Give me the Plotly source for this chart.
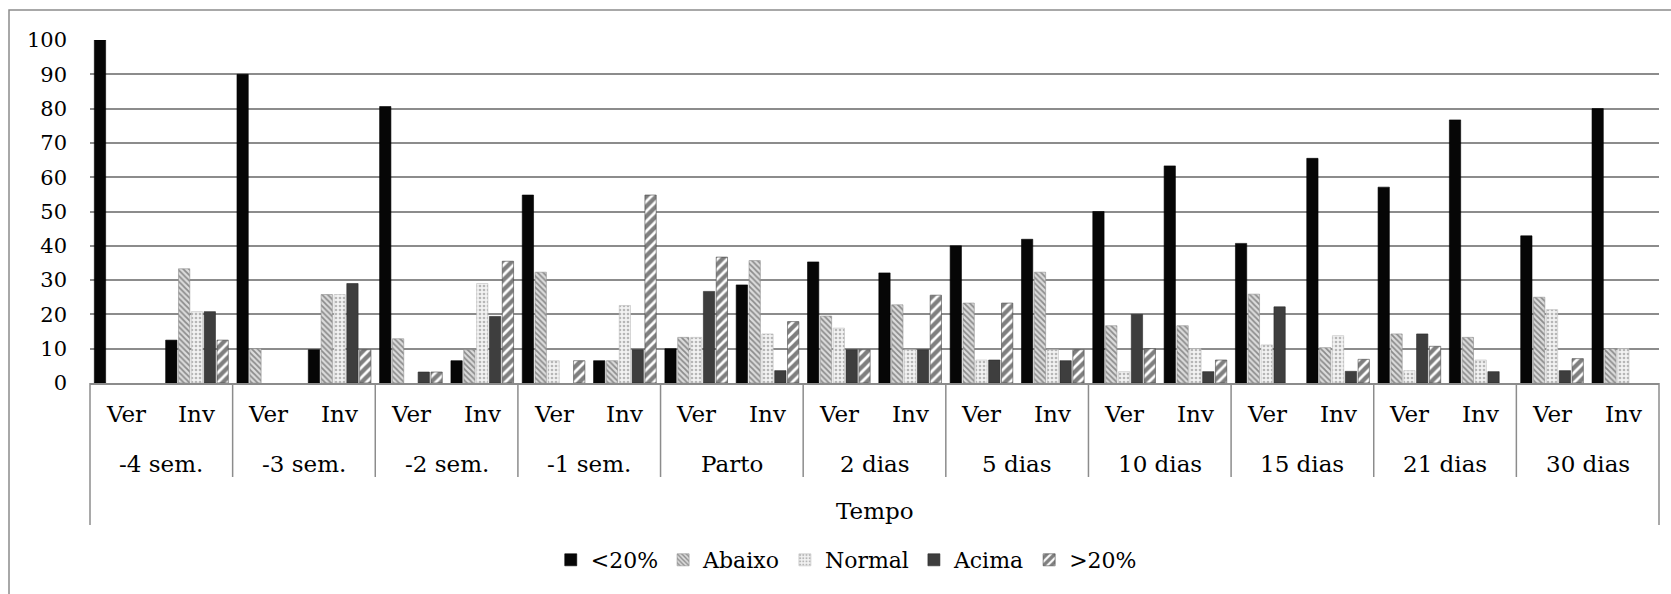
import plotly.graph_objects as go

# Time points and season sub-groups
tempos = ["-4 sem.", "-3 sem.", "-2 sem.", "-1 sem.", "Parto", "2 dias",
          "5 dias", "10 dias", "15 dias", "21 dias", "30 dias"]
estacoes = ["Ver", "Inv"]

# Percent of animals per class, ordered (Ver, Inv) for each time point
menor20 = [100.0, 12.5, 90.0, 9.7, 80.6, 6.5, 54.8, 6.5, 10.0, 28.6, 35.3, 32.1,
           40.0, 41.9, 50.0, 63.3, 40.7, 65.5, 57.1, 76.7, 42.9, 80.0]
abaixo = [0.0, 33.3, 10.0, 25.8, 12.9, 9.7, 32.3, 6.5, 13.3, 35.7, 19.5, 22.8,
          23.3, 32.3, 16.7, 16.7, 25.9, 10.3, 14.3, 13.3, 25.0, 10.0]
normal = [0.0, 20.8, 0.0, 25.8, 0.0, 29.0, 6.5, 22.6, 13.3, 14.3, 16.0, 9.7,
          6.7, 9.7, 3.3, 10.0, 11.1, 13.8, 3.6, 6.7, 21.4, 10.0]
acima = [0.0, 20.8, 0.0, 29.0, 3.2, 19.4, 0.0, 9.7, 26.7, 3.6, 9.7, 9.7,
         6.7, 6.5, 20.0, 3.3, 22.2, 3.4, 14.3, 3.3, 3.6, 0.0]
maior20 = [0.0, 12.5, 0.0, 9.7, 3.2, 35.5, 6.5, 54.8, 36.7, 17.9, 9.7, 25.6,
           23.3, 9.7, 10.0, 6.7, 0.0, 6.9, 10.7, 0.0, 7.1, 0.0]

series_names = ["<20%", "Abaixo", "Normal", "Acima", ">20%"]
series_values = [menor20, abaixo, normal, acima, maior20]

x_outer = [t for t in tempos for _ in estacoes]
x_inner = [e for _ in tempos for e in estacoes]

FONT = "DejaVu Serif"
GRID = "#8c8c8c"

styles = [
    dict(color="#060606", line=dict(color="#000000", width=0.6)),
    dict(color="#d0d0d0",
         pattern=dict(shape="\\", fgcolor="#3a3a3a", bgcolor="#dcdcdc",
                      size=4, solidity=0.45),
         line=dict(color="#8f8f8f", width=0.6)),
    dict(color="#f0f0f0",
         pattern=dict(shape=".", fgcolor="#7a7a7a", bgcolor="#f2f2f2",
                      size=4, solidity=0.35),
         line=dict(color="#bdbdbd", width=0.6)),
    dict(color="#3e3e3e", line=dict(color="#2a2a2a", width=0.6)),
    dict(color="#ffffff",
         pattern=dict(shape="/", fgcolor="#000000", bgcolor="#ffffff",
                      size=7, solidity=0.62),
         line=dict(color="#444444", width=0.6)),
]

fig = go.Figure()
for name, vals, st in zip(series_names, series_values, styles):
    # empty classes get no bar at all
    yv = [v if v > 0 else None for v in vals]
    fig.add_trace(go.Bar(x=[x_outer, x_inner], y=yv, name=name, marker=st))

n = len(tempos)
m = n * len(estacoes)

# Category box: dividers between time points, longer ones at both ends
shapes = []
for k in range(n + 1):
    outer = k in (0, n)
    shapes.append(dict(type="line", xref="x domain", yref="y domain",
                       x0=k / n, x1=k / n, y0=0, y1=-0.414 if outer else -0.274,
                       line=dict(color=GRID, width=1.5)))
# Chart frame
shapes.append(dict(type="rect", xref="paper", yref="paper",
                   x0=(9 - 90) / 1569, x1=(1673 - 90) / 1569,
                   y0=(383 - 640) / 343, y1=(383 - 10) / 343,
                   line=dict(color=GRID, width=1.5), fillcolor="rgba(0,0,0,0)",
                   layer="below"))

# Two-level category labels plus the axis name
annotations = []
for i, lab in enumerate(x_inner):
    annotations.append(dict(text=lab, xref="x domain", yref="y domain",
                            x=(i + 0.5) / m, y=-(414 - 383) / 343,
                            showarrow=False, xanchor="center", yanchor="middle",
                            font=dict(family=FONT, size=23)))
for k, lab in enumerate(tempos):
    annotations.append(dict(text=lab, xref="x domain", yref="y domain",
                            x=(k + 0.5) / n, y=-(464 - 383) / 343,
                            showarrow=False, xanchor="center", yanchor="middle",
                            font=dict(family=FONT, size=23)))
annotations.append(dict(text="Tempo", xref="x domain", yref="y domain",
                        x=0.5, y=-(511 - 383) / 343, showarrow=False,
                        xanchor="center", yanchor="middle",
                        font=dict(family=FONT, size=23)))

fig.update_layout(
    width=1671, height=594,
    margin=dict(l=90, r=12, t=40, b=211),
    paper_bgcolor="white", plot_bgcolor="white",
    font=dict(family=FONT, size=22, color="black"),
    barmode="group", bargap=0.1, bargroupgap=0.12,
    showlegend=True,
    legend=dict(orientation="h", x=0.482, xanchor="center",
                y=(383 - 560) / 343, yanchor="middle",
                font=dict(family=FONT, size=22), traceorder="normal",
                itemwidth=30),
    shapes=shapes,
    annotations=annotations,
)

fig.update_xaxes(type="multicategory", showdividers=False, showgrid=False,
                 showline=True, linecolor=GRID, linewidth=1.5, ticks="",
                 showticklabels=False)
fig.update_yaxes(range=[0, 100], dtick=10, showgrid=True, gridcolor=GRID,
                 gridwidth=1.5, zeroline=False, showline=False,
                 tickfont=dict(family=FONT, size=21, color="black"),
                 ticklabelstandoff=22)

fig.write_html("out.html")
